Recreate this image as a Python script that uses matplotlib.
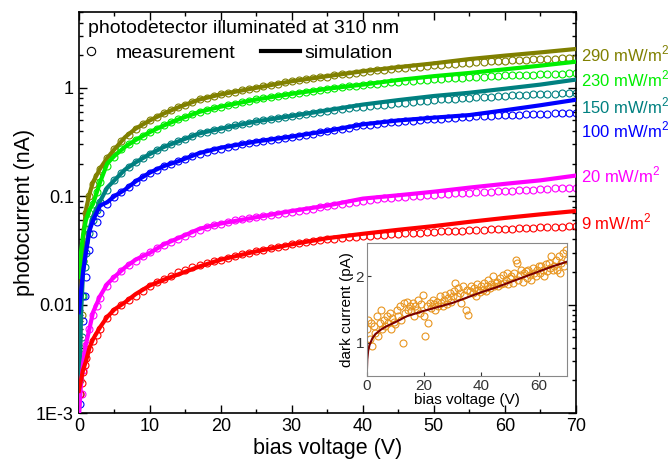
import matplotlib
matplotlib.use("Agg")
import matplotlib.pyplot as plt
import numpy as np
from matplotlib.lines import Line2D
from matplotlib import ticker

plt.rcParams['font.family'] = ['Liberation Sans', 'DejaVu Sans']
plt.rcParams['mathtext.fontset'] = 'custom'
plt.rcParams['mathtext.rm'] = 'Liberation Sans'

# ---- main plot data (photocurrent in nA vs bias voltage in V) ----
labels = ['290 mW/m$^2$', '230 mW/m$^2$', '150 mW/m$^2$', '100 mW/m$^2$', '20 mW/m$^2$', '9 mW/m$^2$']
colors = ['#808000', '#00ee00', '#008080', '#0000ff', '#ff00ff', '#ff0000']
label_y = [2.06, 1.19, 0.68, 0.41, 0.155, 0.058]

sim_v = [0, 0.3, 0.6, 1, 1.5, 2, 3, 4, 5, 6.5, 8, 10, 12, 14, 17, 20,
         25, 30, 35, 40, 45, 50, 55, 60, 65, 70]
sim_290 = [0.0009, 0.012, 0.04, 0.075, 0.105, 0.135, 0.18, 0.225, 0.27, 0.35,
           0.42, 0.5, 0.58, 0.66, 0.78, 0.87, 1.0, 1.15, 1.28, 1.42,
           1.55, 1.68, 1.84, 1.98, 2.12, 2.28]
sim_230 = [0.018, 0.03, 0.044, 0.06, 0.075, 0.085, 0.135, 0.2, 0.235, 0.285,
           0.33, 0.39, 0.45, 0.51, 0.6, 0.67, 0.78, 0.88, 0.98, 1.07,
           1.18, 1.28, 1.37, 1.48, 1.6, 1.74]
sim_150 = [0.0009, 0.008, 0.02, 0.033, 0.05, 0.065, 0.09, 0.12, 0.14, 0.176,
           0.205, 0.245, 0.285, 0.32, 0.38, 0.42, 0.49, 0.55, 0.62, 0.7,
           0.77, 0.84, 0.9, 0.98, 1.07, 1.19]
sim_100 = [0.0085, 0.013, 0.02, 0.03, 0.048, 0.06, 0.082, 0.088, 0.1, 0.115,
           0.137, 0.165, 0.19, 0.21, 0.25, 0.28, 0.32, 0.355, 0.4, 0.46,
           0.5, 0.53, 0.56, 0.62, 0.69, 0.775]
sim_20 = [0.0009, 0.0018, 0.0029, 0.0043, 0.006, 0.0085, 0.012, 0.0155, 0.018, 0.022,
          0.026, 0.03, 0.036, 0.041, 0.05, 0.056, 0.064, 0.073, 0.082, 0.095,
          0.102, 0.11, 0.12, 0.13, 0.14, 0.155]
sim_9 = [0.0016, 0.002, 0.0025, 0.003, 0.004, 0.0048, 0.0062, 0.0077, 0.009, 0.0105,
         0.0125, 0.015, 0.017, 0.019, 0.0225, 0.026, 0.031, 0.036, 0.041, 0.045,
         0.049, 0.053, 0.058, 0.063, 0.068, 0.073]

meas_v = np.concatenate([[0.2, 0.4, 0.6, 0.8, 1, 1.5, 2, 2.5, 3, 4], np.arange(5, 71)])
meas_290 = [0.002, 0.008, 0.025, 0.05, 0.07, 0.1, 0.13, 0.155, 0.18, 0.225,
            0.27, 0.325, 0.37, 0.42, 0.46, 0.5, 0.54, 0.58, 0.62, 0.66,
            0.70, 0.74, 0.78, 0.81, 0.84, 0.87, 0.9, 0.92, 0.95, 0.97,
            1.0, 1.03, 1.06, 1.09, 1.12, 1.15, 1.17, 1.2, 1.22, 1.25,
            1.27, 1.3, 1.33, 1.35, 1.38, 1.4, 1.42, 1.45, 1.47, 1.49,
            1.51, 1.53, 1.55, 1.57, 1.59, 1.61, 1.63, 1.65, 1.67, 1.69,
            1.71, 1.72, 1.74, 1.75, 1.76, 1.78, 1.79, 1.8, 1.81, 1.83,
            1.84, 1.85, 1.86, 1.87, 1.88, 1.89]
meas_230 = [0.004, 0.012, 0.025, 0.038, 0.05, 0.07, 0.085, 0.11, 0.135, 0.19,
            0.23, 0.27, 0.3, 0.33, 0.36, 0.39, 0.42, 0.45, 0.48, 0.51,
            0.54, 0.57, 0.6, 0.62, 0.645, 0.67, 0.69, 0.71, 0.74, 0.76,
            0.78, 0.8, 0.82, 0.84, 0.86, 0.88, 0.9, 0.92, 0.94, 0.96,
            0.97, 0.99, 1.01, 1.03, 1.04, 1.06, 1.08, 1.09, 1.11, 1.12,
            1.14, 1.15, 1.16, 1.18, 1.19, 1.2, 1.21, 1.22, 1.23, 1.24,
            1.25, 1.26, 1.27, 1.28, 1.29, 1.3, 1.3, 1.31, 1.32, 1.32,
            1.33, 1.34, 1.35, 1.35, 1.36, 1.37]
meas_150 = [0.0015, 0.005, 0.012, 0.022, 0.03, 0.046, 0.06, 0.075, 0.088, 0.115,
            0.14, 0.165, 0.185, 0.205, 0.225, 0.245, 0.265, 0.285, 0.3, 0.32,
            0.34, 0.36, 0.38, 0.395, 0.41, 0.42, 0.435, 0.45, 0.46, 0.475,
            0.49, 0.5, 0.51, 0.525, 0.54, 0.55, 0.56, 0.575, 0.59, 0.6,
            0.61, 0.625, 0.64, 0.65, 0.66, 0.67, 0.68, 0.69, 0.7, 0.71,
            0.72, 0.73, 0.74, 0.75, 0.76, 0.77, 0.78, 0.79, 0.795, 0.8,
            0.81, 0.82, 0.825, 0.83, 0.84, 0.845, 0.85, 0.855, 0.86, 0.87,
            0.875, 0.88, 0.885, 0.89, 0.895, 0.9]
meas_100 = [0.0012, 0.003, 0.007, 0.012, 0.018, 0.032, 0.045, 0.058, 0.07, 0.085,
            0.098, 0.11, 0.122, 0.135, 0.15, 0.163, 0.175, 0.188, 0.2, 0.21,
            0.222, 0.234, 0.245, 0.255, 0.265, 0.275, 0.283, 0.291, 0.3, 0.308,
            0.316, 0.323, 0.33, 0.337, 0.344, 0.352, 0.36, 0.369, 0.378, 0.388,
            0.4, 0.41, 0.42, 0.43, 0.44, 0.45, 0.458, 0.466, 0.473, 0.48,
            0.486, 0.492, 0.498, 0.504, 0.51, 0.515, 0.52, 0.525, 0.53, 0.535,
            0.54, 0.544, 0.548, 0.552, 0.556, 0.56, 0.563, 0.566, 0.569, 0.572,
            0.575, 0.578, 0.581, 0.583, 0.586, 0.588]
meas_20 = [0.0008, 0.0015, 0.0025, 0.0035, 0.0042, 0.006, 0.008, 0.0098, 0.0115, 0.0148,
           0.0175, 0.0205, 0.023, 0.0255, 0.028, 0.0305, 0.033, 0.0355, 0.038, 0.0405,
           0.043, 0.046, 0.049, 0.052, 0.054, 0.056, 0.058, 0.06, 0.0615, 0.063,
           0.0645, 0.066, 0.0675, 0.069, 0.0705, 0.072, 0.0735, 0.075, 0.077, 0.079,
           0.081, 0.083, 0.085, 0.087, 0.089, 0.091, 0.093, 0.095, 0.096, 0.097,
           0.098, 0.099, 0.1, 0.101, 0.102, 0.103, 0.104, 0.105, 0.106, 0.107,
           0.108, 0.109, 0.11, 0.1105, 0.111, 0.112, 0.1125, 0.113, 0.114, 0.115,
           0.116, 0.117, 0.118, 0.1185, 0.119, 0.12]
meas_9 = [0.0015, 0.0019, 0.0024, 0.0028, 0.0032, 0.0039, 0.0046, 0.0053, 0.006, 0.0075,
          0.0088, 0.01, 0.011, 0.012, 0.0134, 0.0148, 0.016, 0.0172, 0.0185, 0.0198,
          0.021, 0.022, 0.023, 0.024, 0.025, 0.026, 0.027, 0.028, 0.029, 0.030,
          0.031, 0.032, 0.033, 0.034, 0.035, 0.036, 0.0368, 0.0376, 0.0384, 0.0392,
          0.040, 0.0406, 0.0412, 0.0418, 0.0424, 0.043, 0.0434, 0.0438, 0.0442, 0.0446,
          0.045, 0.0454, 0.0458, 0.0462, 0.0466, 0.047, 0.0473, 0.0476, 0.0479, 0.0482,
          0.0485, 0.0488, 0.0491, 0.0494, 0.0497, 0.050, 0.0503, 0.0506, 0.0509, 0.0512,
          0.0515, 0.0518, 0.0521, 0.0524, 0.0527, 0.053]

sims = [sim_290, sim_230, sim_150, sim_100, sim_20, sim_9]
meas = [meas_290, meas_230, meas_150, meas_100, meas_20, meas_9]

# ---- inset data (dark current in pA), measured every 0.5 V ----
dark_meas = [1.2, 1.35, 1.05, 1.3, 0.95, 1.25, 1.15, 1.4, 1.1, 1.3, 1.5,
             1.2, 1.35, 1.25, 1.4, 1.3, 1.45, 1.2, 1.38, 1.32, 1.28,
             1.5, 1.4, 1.55, 1.35, 1.0, 1.6, 1.45, 1.62, 1.5, 1.55,
             1.48, 1.6, 1.4, 1.55, 1.5, 1.65, 1.45, 1.58, 1.72, 1.4,
             1.1, 1.55, 1.3, 1.6, 1.52, 1.65, 1.58, 1.5, 1.62, 1.55,
             1.7, 1.6, 1.55, 1.65, 1.72, 1.58, 1.68, 1.75, 1.62, 1.7,
             1.78, 1.9, 1.7, 1.82, 1.75, 1.6, 1.85, 1.72, 1.5, 1.8,
             1.42, 1.78, 1.85, 1.75, 1.82, 1.7, 1.88, 1.8, 1.76, 1.85,
             1.8, 1.9, 1.78, 1.86, 1.95, 1.82, 1.88, 2.0, 1.85, 1.9,
             1.92, 1.85, 1.98, 1.88, 2.02, 1.9, 1.95, 2.05, 1.88, 1.98,
             2.0, 1.9, 2.05, 2.25, 2.2, 1.95, 2.02, 2.1, 1.92, 2.05,
             2.08, 1.98, 2.1, 2.02, 1.95, 2.12, 2.05, 2.0, 2.1, 2.15,
             2.05, 2.15, 2.1, 2.0, 2.18, 2.08, 2.2, 2.12, 2.3, 2.1,
             2.15, 2.25, 2.1, 2.3, 2.05, 2.2, 2.35, 2.15, 2.4, 2.25]
dark_v = np.arange(len(dark_meas)) * 0.5
dark_sim_v = [0, 0.2, 0.5, 1, 2, 3, 5, 7, 10, 14, 20, 25, 30, 35, 40, 45, 50, 55, 60, 65, 70]
dark_sim = [0.5, 0.75, 0.88, 0.97, 1.07, 1.13, 1.2, 1.25, 1.31, 1.4, 1.48, 1.54,
            1.6, 1.68, 1.76, 1.83, 1.91, 1.99, 2.07, 2.15, 2.22]

fig = plt.figure(figsize=(6.68, 4.62), dpi=100)
ax = fig.add_axes([0.118, 0.106, 0.744, 0.868])

for m, s, c in zip(meas, sims, colors):
    ax.plot(meas_v, m, ls='none', marker='o', ms=5, mfc='none', mec=c, mew=0.8, zorder=2)
    ax.plot(sim_v, s, color=c, lw=3, zorder=3)

ax.set_yscale('log')
ax.set_xlim(0, 70)
ax.set_ylim(1e-3, 5)
ax.set_yticks([1e-3, 1e-2, 1e-1, 1])
ax.set_yticklabels(['1E-3', '0.01', '0.1', '1'])
ax.xaxis.set_minor_locator(ticker.MultipleLocator(5))
ax.yaxis.set_minor_locator(ticker.LogLocator(subs=np.arange(2, 10)))
ax.yaxis.set_minor_formatter(ticker.NullFormatter())
ax.tick_params(which='both', direction='in', top=True, right=True, labelsize=13, width=1)
ax.tick_params(which='major', length=6)
ax.tick_params(which='minor', length=3)
for sp in ax.spines.values():
    sp.set_linewidth(1.2)
ax.set_xlabel('bias voltage (V)', fontsize=15.5, labelpad=2)
ax.set_ylabel('photocurrent (nA)', fontsize=15.5, labelpad=1)

ax.text(0.018, 0.958, 'photodetector illuminated at 310 nm', transform=ax.transAxes,
        fontsize=14, va='center', ha='left')
handles = [Line2D([], [], ls='none', marker='o', ms=6, mfc='none', mec='black', mew=0.8),
           Line2D([], [], color='black', lw=3)]
ax.legend(handles, ['measurement', 'simulation'], ncol=2, loc='center left',
          bbox_to_anchor=(-0.014, 0.898), frameon=False, fontsize=14,
          handlelength=2.0, handletextpad=0.25, columnspacing=1.3,
          borderpad=0, borderaxespad=0)

trans = ax.get_yaxis_transform()
for lab, ly, c in zip(labels, label_y, colors):
    ax.text(1.01, ly, lab, transform=trans, color=c, fontsize=12, va='center', ha='left')

# inset
ins = fig.add_axes([0.549, 0.186, 0.30, 0.288])
ins.plot(dark_v, dark_meas, ls='none', marker='o', ms=5, mfc='none', mec='#e8951f', mew=0.8)
ins.plot(dark_sim_v, dark_sim, color='#7a0000', lw=1.5)
ins.set_xlim(0, 70)
ins.set_ylim(0.5, 2.5)
ins.set_xticks([0, 20, 40, 60])
ins.set_yticks([1, 2])
ins.tick_params(direction='in', labelsize=11, length=3, pad=2, colors='#333333')
for sp in ins.spines.values():
    sp.set_color('#888888')
ins.set_xlabel('bias voltage (V)', fontsize=11, labelpad=0)
ins.set_ylabel('dark current (pA)', fontsize=11, labelpad=1)

fig.savefig('out.png', dpi=100)
